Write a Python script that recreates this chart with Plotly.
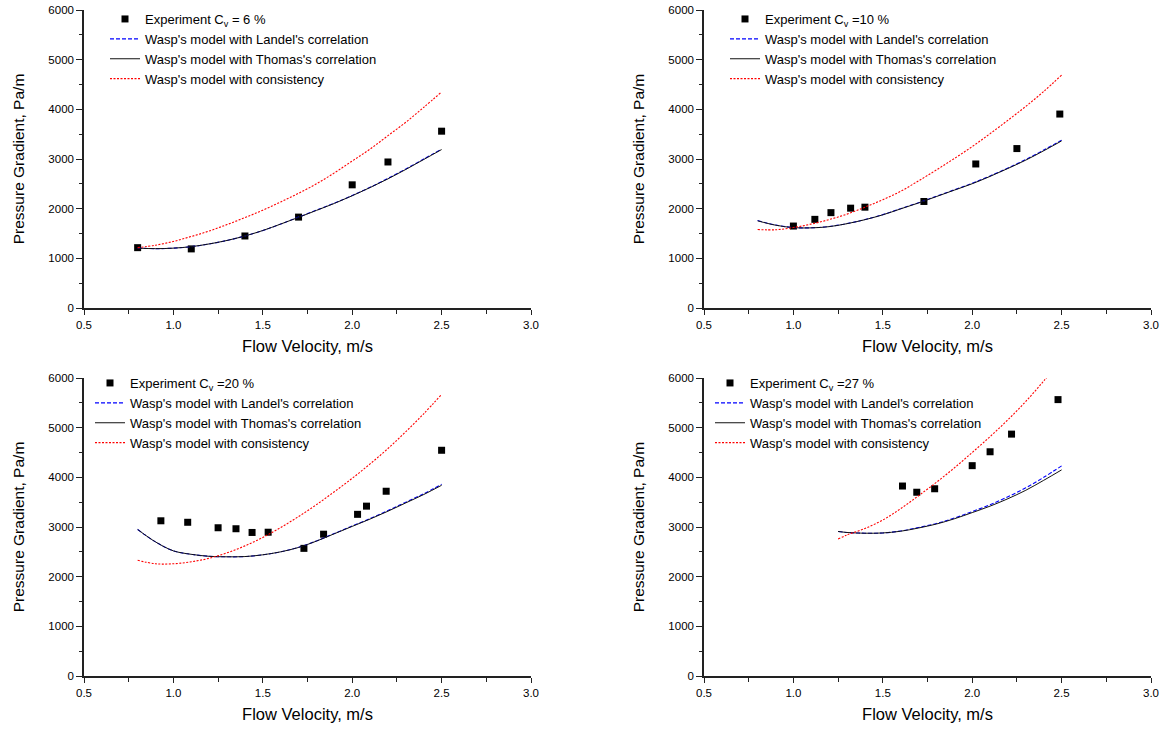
import plotly.graph_objects as go

# ---------------- data ----------------
v_model_a = [0.8, 0.9, 1.0, 1.1, 1.2, 1.3, 1.4, 1.5, 1.6, 1.7, 1.8, 1.9, 2.0, 2.1, 2.2, 2.3, 2.4, 2.5]
v_model_b = [1.25, 1.3, 1.4, 1.5, 1.6, 1.7, 1.8, 1.9, 2.0, 2.1, 2.2, 2.3, 2.4, 2.5]

# Cv = 6 %
exp6_v = [0.80, 1.10, 1.40, 1.70, 2.00, 2.20, 2.50]
exp6_p = [1215, 1190, 1450, 1830, 2480, 2940, 3560]
landel6 = [1205, 1195, 1205, 1235, 1290, 1360, 1450, 1560, 1690, 1830, 1970, 2110, 2265, 2430, 2610, 2800, 3000, 3200]
thomas6 = [1205, 1195, 1205, 1235, 1290, 1360, 1450, 1560, 1690, 1825, 1965, 2105, 2260, 2425, 2600, 2790, 2990, 3190]
cons6 = [1215, 1265, 1340, 1440, 1550, 1680, 1820, 1970, 2135, 2310, 2500, 2720, 2960, 3200, 3470, 3740, 4040, 4350]

# Cv = 10 %
exp10_v = [1.00, 1.12, 1.21, 1.32, 1.40, 1.73, 2.02, 2.25, 2.49]
exp10_p = [1650, 1785, 1920, 2010, 2030, 2145, 2900, 3210, 3905]
landel10 = [1760, 1670, 1620, 1615, 1640, 1700, 1780, 1880, 2000, 2120, 2250, 2380, 2510, 2660, 2820, 2990, 3180, 3380]
thomas10 = [1755, 1668, 1618, 1613, 1638, 1698, 1778, 1876, 1996, 2115, 2244, 2373, 2502, 2650, 2810, 2978, 3166, 3364]
cons10 = [1580, 1575, 1620, 1690, 1780, 1890, 2030, 2180, 2350, 2560, 2780, 3010, 3250, 3510, 3780, 4060, 4360, 4690]

# Cv = 20 %
exp20_v = [0.93, 1.08, 1.25, 1.35, 1.44, 1.53, 1.73, 1.84, 2.03, 2.08, 2.19, 2.50]
exp20_p = [3125, 3095, 2985, 2965, 2890, 2895, 2570, 2855, 3255, 3420, 3720, 4545]
landel20 = [2950, 2700, 2520, 2450, 2410, 2400, 2405, 2440, 2500, 2590, 2720, 2870, 3020, 3170, 3330, 3500, 3670, 3860]
thomas20 = [2950, 2700, 2520, 2450, 2410, 2400, 2405, 2440, 2500, 2588, 2716, 2864, 3012, 3160, 3318, 3486, 3654, 3840]
cons20 = [2330, 2260, 2260, 2300, 2370, 2480, 2620, 2790, 2990, 3210, 3450, 3710, 3980, 4270, 4580, 4920, 5280, 5670]

# Cv = 27 %
exp27_v = [1.61, 1.69, 1.79, 2.00, 2.10, 2.22, 2.48]
exp27_p = [3825, 3700, 3770, 4235, 4515, 4870, 5565]
landel27 = [2910, 2890, 2875, 2880, 2920, 2990, 3070, 3180, 3310, 3450, 3610, 3790, 4000, 4230]
thomas27 = [2910, 2890, 2875, 2880, 2915, 2980, 3060, 3165, 3290, 3420, 3570, 3740, 3940, 4150]
cons27 = [2760, 2840, 2970, 3140, 3370, 3630, 3900, 4190, 4500, 4820, 5160, 5530, 5940, 6380]

exp_labels = ["Experiment C<sub>v</sub> = 6 %", "Experiment C<sub>v</sub> =10 %",
              "Experiment C<sub>v</sub> =20 %", "Experiment C<sub>v</sub> =27 %"]
model_labels = ["Wasp's model with Landel's correlation",
                "Wasp's model with Thomas's correlation",
                "Wasp's model with consistency"]
x_title = "Flow Velocity, m/s"
y_title = "Pressure Gradient, Pa/m"

panels = [
    (exp6_v, exp6_p, v_model_a, landel6, thomas6, cons6),
    (exp10_v, exp10_p, v_model_a, landel10, thomas10, cons10),
    (exp20_v, exp20_p, v_model_a, landel20, thomas20, cons20),
    (exp27_v, exp27_p, v_model_b, landel27, thomas27, cons27),
]

# ---------------- figure ----------------
W, H = 1163, 729
FONT = "Liberation Sans, Arial, sans-serif"

fig = go.Figure()

# pixel boxes of plot areas (left, right, top, bottom)
boxes = [(84, 531, 10, 308), (704, 1151, 10, 308), (84, 531, 378, 676), (704, 1151, 378, 676)]
legend_pos = [(105, 4), (725, 4), (90, 368), (710, 368)]

for i, (ev, ep, mv, lan, tho, con) in enumerate(panels):
    n = i + 1
    xa = "x" if n == 1 else f"x{n}"
    ya = "y" if n == 1 else f"y{n}"
    lg = "legend" if n == 1 else f"legend{n}"
    fig.add_trace(go.Scatter(x=ev, y=ep, mode="markers", name=exp_labels[i],
                             marker=dict(symbol="square", size=7, color="black"),
                             xaxis=xa, yaxis=ya, legend=lg))
    fig.add_trace(go.Scatter(x=mv, y=lan, mode="lines", name=model_labels[0],
                             line=dict(color="#0000ff", width=1.1, dash="4px,2px", shape="spline"),
                             xaxis=xa, yaxis=ya, legend=lg))
    fig.add_trace(go.Scatter(x=mv, y=tho, mode="lines", name=model_labels[1],
                             line=dict(color="#111111", width=1, shape="spline"),
                             xaxis=xa, yaxis=ya, legend=lg))
    fig.add_trace(go.Scatter(x=mv, y=con, mode="lines", name=model_labels[2],
                             line=dict(color="#ff0000", width=1.1, dash="2px,1.5px", shape="spline"),
                             xaxis=xa, yaxis=ya, legend=lg))

layout = dict(
    width=W, height=H,
    margin=dict(l=0, r=0, t=0, b=0),
    paper_bgcolor="white", plot_bgcolor="white",
    font=dict(family=FONT, color="black", size=12),
    showlegend=True,
)

for i, (l, r, t, b) in enumerate(boxes):
    n = i + 1
    xk = "xaxis" if n == 1 else f"xaxis{n}"
    yk = "yaxis" if n == 1 else f"yaxis{n}"
    ya = "y" if n == 1 else f"y{n}"
    xa = "x" if n == 1 else f"x{n}"
    layout[xk] = dict(
        domain=[l / W, r / W], anchor=ya, range=[0.5, 3.0], dtick=0.5, tick0=0.5,
        tickformat=".1f", showgrid=False, zeroline=False, showline=True,
        linecolor="#222", linewidth=1.5, ticks="outside", ticklen=5, tickwidth=1,
        tickcolor="#222", tickfont=dict(size=11.5, family=FONT),
        minor=dict(dtick=0.25, tick0=0.5, ticks="outside", ticklen=4, tickcolor="#222", showgrid=False),
        title=dict(text=x_title, font=dict(size=16.5, family=FONT), standoff=11),
        automargin=False,
    )
    layout[yk] = dict(
        domain=[1 - b / H, 1 - t / H], anchor=xa, range=[0, 6000], dtick=1000,
        showgrid=False, zeroline=False, showline=True,
        linecolor="#222", linewidth=1.5, ticks="outside", ticklen=6, tickwidth=1,
        tickcolor="#222", tickfont=dict(size=11.5, family=FONT),
        minor=dict(dtick=500, ticks="outside", ticklen=3, tickcolor="#222", showgrid=False),
        title=dict(text=y_title, font=dict(size=15.5, family=FONT), standoff=20),
        automargin=False,
    )
    lk = "legend" if n == 1 else f"legend{n}"
    lx, ly = legend_pos[i]
    layout[lk] = dict(
        x=lx / W, y=1 - ly / H, xanchor="left", yanchor="top",
        bgcolor="rgba(0,0,0,0)", borderwidth=0,
        font=dict(size=13, family=FONT), tracegroupgap=0, itemwidth=30,
    )

fig.update_layout(**layout)
fig.write_html("out.html", config={"displayModeBar": False},
               post_script="document.body.style.margin='0';")
